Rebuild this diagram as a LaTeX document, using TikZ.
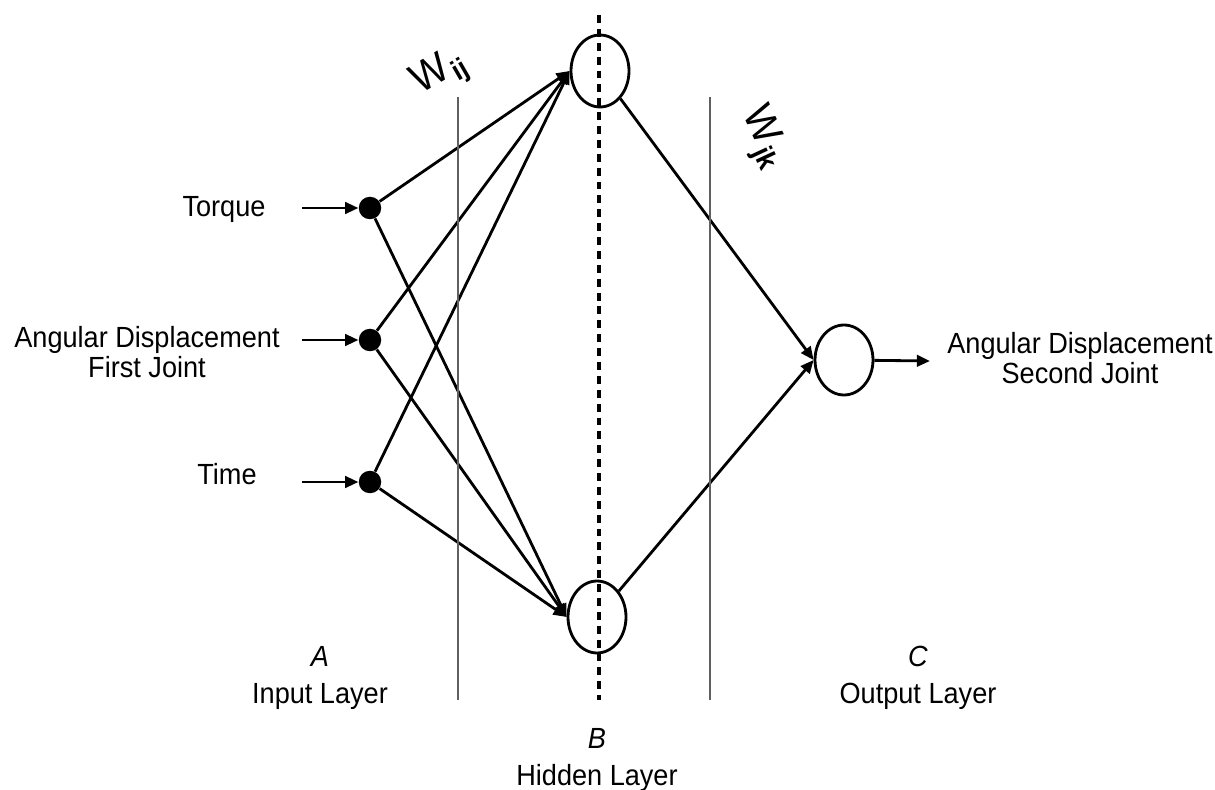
\documentclass[tikz,border=0pt]{standalone}
\usepackage{fontspec}
\setmainfont[FakeStretch=0.93]{Liberation Sans}
\usepackage{tikz}
\usetikzlibrary{arrows.meta,positioning,shapes.geometric}
\definecolor{rulegrey}{HTML}{606060}
\newcommand{\weightname}[2]{{\fontsize{24}{24}\selectfont #1}\kern1pt\raisebox{-4pt}{\fontsize{16}{16}\selectfont\bfseries #2}}

\begin{document}
\begin{tikzpicture}[
  x=0.02cm, y=-0.02cm,
  every node/.style={font=\fontsize{16.6}{16.8}\selectfont,align=center},
  inputnode/.style={circle,fill=black,minimum size=0.45cm,inner sep=0pt},
  neuron/.style={ellipse,draw,line width=1.6pt,minimum width=1.16cm,minimum height=1.44cm,inner sep=0pt},
  layer/.style={font=\fontsize{16.6}{21}\selectfont},
  arr/.style={-{Triangle[length=7.5pt,width=6.5pt]},line width=1.6pt},
  divider/.style={draw=rulegrey,line width=0.6pt}
]
\useasboundingbox (0,0) rectangle (1215,790);
% input side
\node (torque) at (224,209) {Torque};
\node (angfirst) at (147,352) {Angular Displacement\\First Joint};
\node (time) at (227,474) {Time};
\node[inputnode] (in1) at (370,208) {};
\node[inputnode] (in2) at (370,340) {};
\node[inputnode] (in3) at (370,482) {};
\coordinate (s1) at (302,208); \coordinate (s2) at (302,340); \coordinate (s3) at (302,482);
\draw[arr] (s1)--(in1); \draw[arr] (s2)--(in2); \draw[arr] (s3)--(in3);
% hidden and output
\node[neuron] (h1) at (600,71) {};
\node[neuron] (h2) at (597,617) {};
\node[neuron,minimum height=1.4cm] (out) at (844,360) {};
\coordinate (tip) at (930,361);
\node (second) at (1080,358) {Angular Displacement\\Second Joint};
\draw[arr] (in1)--(h1.west); \draw[arr] (in1)--(h2.west);
\draw[arr] (in2)--(h1.west); \draw[arr] (in2)--(h2.west);
\draw[arr] (in3)--(h1.west); \draw[arr] (in3)--(h2.west);
\draw[arr] (h1)--(out.west); \draw[arr] (h2)--(out.west);
\draw[arr] (out)--(tip);
% layer boundaries
\draw[divider] (458,97)--(458,700);
\draw[divider] (710,97)--(710,700);
\draw[line width=2.4pt,dash pattern=on 4.5pt off 3.4pt] (599,15)--(599,700);
% weights
\node[rotate=30] (wij) at (440,74) {\weightname{W}{ij}};
\node[rotate=-65] (wjk) at (763,138) {\weightname{W}{jk}};
% layer names
\node[layer] (layA) at (320,678) {\textit{A}\\Input Layer};
\node[layer] (layB) at (597,760) {\textit{B}\\Hidden Layer};
\node[layer] (layC) at (918,678) {\textit{C}\\Output Layer};
\end{tikzpicture}
\end{document}
